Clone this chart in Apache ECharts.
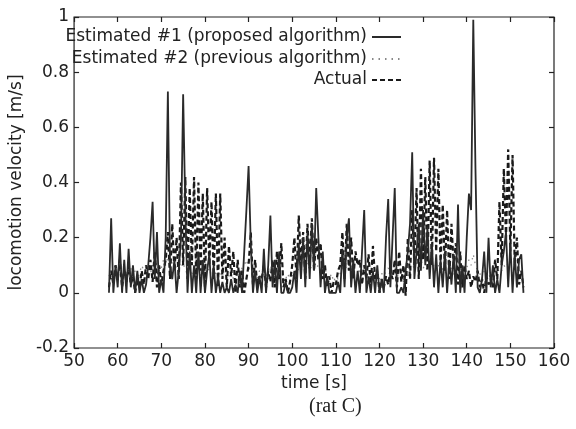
<!DOCTYPE html>
<html>
<head>
<meta charset="utf-8">
<script src="https://cdn.jsdelivr.net/npm/echarts@6/dist/echarts.min.js"></script>
<style>
  html, body { margin: 0; padding: 0; background: #fff; }
  #chart { width: 576px; height: 429px; }
</style>
</head>
<body>
<div id="chart"></div>
<script>
// sampling grid: one value every 0.5 s from 58 s to 153 s
const t0 = 58, dt = 0.5;

// Estimated #1 (proposed algorithm) [m/s]
const est1 = [
  0, 0.27, 0, 0.1, 0.02, 0.18, 0, 0.12, 0, 0.16,
  0.02, 0.1, 0, 0.08, 0, 0.05, 0, 0.03, 0.1, 0.2,
  0.33, 0.05, 0.22, 0, 0.05, 0, 0.2, 0.73, 0.1, 0.05,
  0.12, 0, 0.08, 0.2, 0.72, 0.3, 0, 0.15, 0, 0.1,
  0, 0.15, 0, 0.12, 0, 0.08, 0.14, 0, 0.1, 0,
  0.06, 0, 0.04, 0, 0.02, 0, 0.05, 0, 0.03, 0,
  0.08, 0, 0.15, 0.3, 0.46, 0.18, 0, 0.08, 0, 0.06,
  0, 0.16, 0, 0.1, 0.28, 0.02, 0.12, 0, 0.15, 0,
  0, 0.04, 0, 0, 0.02, 0.08, 0, 0.18, 0.05, 0.2,
  0.02, 0.22, 0.05, 0.25, 0.08, 0.38, 0.2, 0.02, 0.15, 0,
  0.06, 0, 0, 0, 0, 0.04, 0, 0.16, 0.02, 0.2,
  0.27, 0.02, 0.12, 0, 0.08, 0, 0.15, 0.3, 0, 0.06,
  0, 0.08, 0, 0.1, 0, 0.05, 0, 0.2, 0.34, 0.02,
  0.2, 0.38, 0, 0, 0.02, 0, 0.08, 0.15, 0.25, 0.51,
  0.05, 0.15, 0.25, 0.08, 0.3, 0.1, 0.24, 0.05, 0.18, 0.02,
  0.14, 0, 0.12, 0.02, 0.15, 0, 0.12, 0.03, 0.14, 0,
  0.32, 0, 0.1, 0, 0.2, 0.36, 0.3, 0.99, 0.45, 0.02,
  0, 0.05, 0.15, 0, 0.2, 0.02, 0.1, 0, 0.05, 0,
  0.1, 0.15, 0.22, 0.02, 0.18, 0, 0.14, 0.02, 0.12, 0.14,
  0
];

// Estimated #2 (previous algorithm) [m/s]
const est2 = [
  0.06, 0.08, 0.05, 0.09, 0.07, 0.1, 0.06, 0.08, 0.05, 0.07,
  0.09, 0.06, 0.08, 0.05, 0.07, 0.1, 0.08, 0.06, 0.09, 0.07,
  0.1, 0.08, 0.11, 0.07, 0.09, 0.12, 0.1, 0.13, 0.09, 0.11,
  0.08, 0.1, 0.12, 0.09, 0.11, 0.08, 0.07, 0.09, 0.06, 0.08,
  0.07, 0.09, 0.06, 0.08, 0.1, 0.07, 0.09, 0.06, 0.08, 0.07,
  0.06, 0.08, 0.05, 0.07, 0.09, 0.06, 0.08, 0.05, 0.07, 0.06,
  0.07, 0.09, 0.1, 0.12, 0.09, 0.08, 0.06, 0.07, 0.05, 0.08,
  0.07, 0.09, 0.06, 0.08, 0.1, 0.07, 0.06, 0.08, 0.05, 0.07,
  0.06, 0.05, 0.07, 0.04, 0.06, 0.08, 0.07, 0.09, 0.08, 0.1,
  0.09, 0.11, 0.08, 0.1, 0.12, 0.09, 0.1, 0.08, 0.07, 0.09,
  0.06, 0.05, 0.07, 0.04, 0.06, 0.05, 0.07, 0.09, 0.08, 0.1,
  0.08, 0.09, 0.07, 0.08, 0.06, 0.09, 0.08, 0.1, 0.07, 0.06,
  0.05, 0.07, 0.06, 0.08, 0.05, 0.07, 0.06, 0.08, 0.09, 0.07,
  0.08, 0.1, 0.07, 0.05, 0.06, 0.04, 0.07, 0.06, 0.08, 0.1,
  0.09, 0.11, 0.1, 0.12, 0.09, 0.1, 0.08, 0.11, 0.09, 0.1,
  0.08, 0.1, 0.07, 0.09, 0.08, 0.06, 0.07, 0.09, 0.06, 0.08,
  0.07, 0.09, 0.08, 0.1, 0.09, 0.12, 0.1, 0.14, 0.1, 0.08,
  0.07, 0.05, 0.08, 0.06, 0.07, 0.05, 0.06, 0.08, 0.07, 0.09,
  0.08, 0.1, 0.09, 0.11, 0.08, 0.07, 0.09, 0.06, 0.08, 0.07,
  0.06
];

// Actual [m/s]
const actual = [
  0.02, 0.08, 0.03, 0.1, 0.05, 0.12, 0.02, 0.08, 0.04, 0.1,
  0.03, 0.06, 0, 0.05, 0.02, 0.08, 0.03, 0.1, 0.05, 0.12,
  0.04, 0.15, 0.02, 0.1, 0.03, 0.08, 0.12, 0.22, 0.05, 0.25,
  0.08, 0.2, 0.05, 0.4, 0.1, 0.42, 0.05, 0.38, 0.1, 0.42,
  0.05, 0.4, 0.08, 0.36, 0.02, 0.38, 0.1, 0.33, 0.05, 0.36,
  0.02, 0.36, 0.05, 0.2, 0.02, 0.17, 0.06, 0.15, 0, 0.12,
  0.02, 0.08, 0, 0.05, 0.1, 0.22, 0.03, 0.12, 0.02, 0.06,
  0.05, 0.1, 0.02, 0.08, 0.04, 0.12, 0.02, 0.15, 0.05, 0.18,
  0.02, 0.05, 0, 0.04, 0.1, 0.2, 0.05, 0.28, 0.1, 0.22,
  0.05, 0.25, 0.1, 0.27, 0.08, 0.2, 0.12, 0.18, 0.05, 0.1,
  0.02, 0.06, 0, 0.04, 0.03, 0.08, 0.1, 0.22, 0.05, 0.25,
  0.08, 0.2, 0.05, 0.15, 0.1, 0.12, 0.03, 0.1, 0.05, 0.14,
  0.02, 0.17, 0.05, 0.08, 0, 0.05, 0.02, 0.06, 0.03, 0.08,
  0.05, 0.12, 0.02, 0.15, 0.04, 0.1, -0.01, 0.2, 0.05, 0.3,
  0.1, 0.38, 0.05, 0.45, 0.12, 0.42, 0.08, 0.48, 0.1, 0.49,
  0.15, 0.45, 0.1, 0.32, 0.08, 0.3, 0.05, 0.25, 0.1, 0.18,
  0.03, 0.15, 0.02, 0.1, 0.05, 0.08, 0.02, 0.06, 0.04, 0.08,
  0.02, 0.05, 0, 0.06, 0.03, 0.05, 0.02, 0.12, 0.05, 0.33,
  0.1, 0.45, 0.2, 0.52, 0.15, 0.5, 0.1, 0.2, 0.03, 0.08,
  0.02
];

const NAME1 = 'Estimated #1 (proposed algorithm)';
const NAME2 = 'Estimated #2 (previous algorithm)';
const NAME3 = 'Actual';

const pairs = arr => arr.map((v, i) => [t0 + i * dt, v]);

const font = 'DejaVu Sans';
const ink = '#222';

const tickFmt = v => String(+v.toFixed(1));

function legendAt(name, top) {
  return {
    data: [name],
    right: 174,
    top: top,
    padding: 0,
    align: 'right',
    itemWidth: 29,
    itemHeight: 14,
    selectedMode: false,
    itemStyle: {opacity: 0},
    textStyle: {fontFamily: font, fontSize: 17, color: ink, lineHeight: 20}
  };
}

const tick = {show: true, inside: true, length: 5, lineStyle: {color: ink, width: 1.2}};

const chart = echarts.init(document.getElementById('chart'), null, {renderer: 'canvas'});

const option = {
  backgroundColor: '#fff',
  animation: false,
  grid: {left: 65, right: 22, top: 17, bottom: 81, show: true, borderColor: ink, borderWidth: 1.2},
  legend: [legendAt(NAME1, 27), legendAt(NAME2, 49), legendAt(NAME3, 70)],
  xAxis: [{
    type: 'value', min: 50, max: 160, interval: 10,
    name: 'time [s]', nameLocation: 'middle', nameGap: 24,
    nameTextStyle: {fontFamily: font, fontSize: 17, color: ink},
    axisLine: {show: false, onZero: false},
    axisTick: tick,
    axisLabel: {fontFamily: font, fontSize: 17, color: ink, margin: 5},
    splitLine: {show: false}
  }, {
    type: 'value', min: 50, max: 160, interval: 10, position: 'top',
    axisLine: {show: false, onZero: false},
    axisTick: tick,
    axisLabel: {show: false},
    splitLine: {show: false}
  }],
  yAxis: [{
    type: 'value', min: -0.2, max: 1, interval: 0.2,
    name: 'locomotion velocity [m/s]', nameLocation: 'middle', nameGap: 34,
    nameTextStyle: {fontFamily: font, fontSize: 17, color: ink},
    axisLine: {show: false, onZero: false},
    axisTick: tick,
    axisLabel: {fontFamily: font, fontSize: 17, color: ink, margin: 5, formatter: tickFmt},
    splitLine: {show: false}
  }, {
    type: 'value', min: -0.2, max: 1, interval: 0.2, position: 'right',
    axisLine: {show: false, onZero: false},
    axisTick: tick,
    axisLabel: {show: false},
    splitLine: {show: false}
  }],
  graphic: [{
    type: 'text', left: 309, top: 397,
    style: {text: '(rat C)', fontFamily: 'Liberation Serif', fontSize: 20, fill: ink, textAlign: 'center'}
  }],
  series: [{
    name: NAME3, type: 'line', data: pairs(actual),
    symbol: 'none', z: 3, color: '#1a1a1a',
    lineStyle: {color: '#1a1a1a', width: 2.2, type: [5, 3]}
  }, {
    name: NAME2, type: 'line', data: pairs(est2),
    symbol: 'none', z: 2, color: '#888',
    lineStyle: {color: '#888', width: 1.3, type: [1.5, 5]}
  }, {
    name: NAME1, type: 'line', data: pairs(est1),
    symbol: 'none', z: 4, color: '#2a2a2a',
    lineStyle: {color: '#2a2a2a', width: 1.8}
  }]
};

chart.setOption(option);
</script>
</body>
</html>
